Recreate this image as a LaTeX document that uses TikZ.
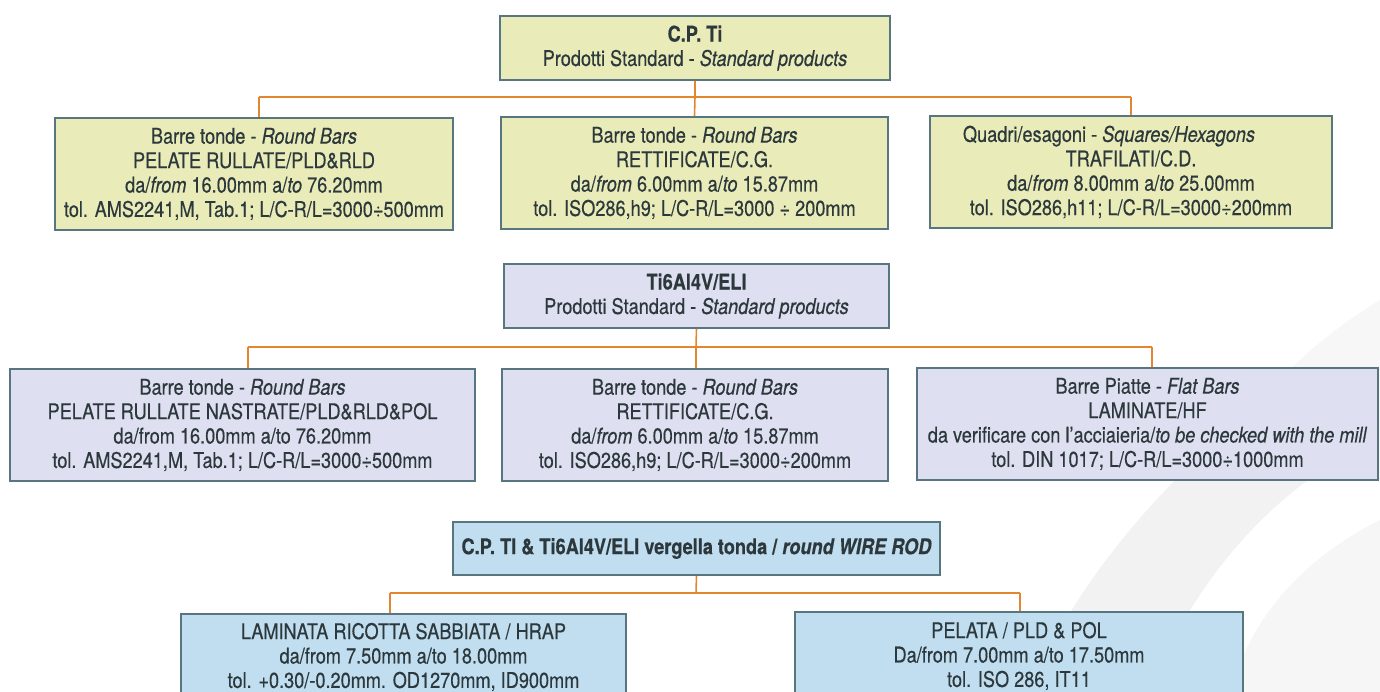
\documentclass[tikz,border=0pt]{standalone}
\usepackage{fontspec}
\setmainfont[FakeStretch=0.84,FakeBold=0.4]{TeX Gyre Heros}
\definecolor{ycol}{RGB}{233,236,184}
\definecolor{lcol}{RGB}{222,223,240}
\definecolor{bcol}{RGB}{192,222,240}
\definecolor{bordc}{RGB}{88,118,128}
\definecolor{txt}{RGB}{44,56,60}
\definecolor{conc}{RGB}{226,134,48}
\begin{document}
\begin{tikzpicture}[x=0.02cm,y=-0.02cm,
  box/.style={draw=bordc, line width=0.9pt, inner sep=0pt, align=center, text=txt,
    font=\fontsize{12.3}{13.9}\selectfont},
  ybox/.style={box, fill=ycol},
  lbox/.style={box, fill=lcol},
  bbox/.style={box, fill=bcol},
  conn/.style={draw=conc, line width=0.9pt}]
\useasboundingbox (0,0) rectangle (1380,692);
\clip (0,0) rectangle (1380,692);
% background swoosh
\fill[gray!10] (1380,330) .. controls (1250,390) and (1090,540) .. (1030,692) -- (1150,692) .. controls (1200,560) and (1300,470) .. (1380,440) -- cycle;
\fill[gray!6] (1380,300) .. controls (1330,330) and (1270,380) .. (1240,430) -- (1380,480) -- cycle;
\fill[gray!7] (1380,520) .. controls (1300,560) and (1250,620) .. (1230,692) -- (1380,692) -- cycle;

% C.P. Ti
\node[ybox, minimum width=7.8cm, minimum height=1.28cm] (h1) at (695,48)
  {\textbf{C.P. Ti}\\Prodotti Standard - \textit{Standard products}};
\node[ybox, minimum width=7.96cm, minimum height=2.24cm] (a1) at (254,174)
  {Barre tonde - \textit{Round Bars}\\PELATE RULLATE/PLD\&RLD\\da/\textit{from} 16.00mm a/\textit{to} 76.20mm\\tol. AMS2241,M, Tab.1; L/C-R/L=3000÷500mm};
\node[ybox, minimum width=7.74cm, minimum height=2.24cm] (b1) at (694.5,173)
  {Barre tonde - \textit{Round Bars}\\RETTIFICATE/C.G.\\da/\textit{from} 6.00mm a/\textit{to} 15.87mm\\tol. ISO286,h9; L/C-R/L=3000 ÷ 200mm};
\node[ybox, minimum width=8.04cm, minimum height=2.24cm] (c1) at (1131,172)
  {Quadri/esagoni - \textit{Squares/Hexagons}\hspace*{0.88cm}\\TRAFILATI/C.D.\hspace*{0.88cm}\\da/\textit{from} 8.00mm a/\textit{to} 25.00mm\hspace*{0.88cm}\\tol. ISO286,h11; L/C-R/L=3000÷200mm};
\coordinate (j1) at (695,97);
\coordinate (d1a) at (259,97);
\coordinate (d1c) at (1131,97);
\draw[conn] (h1.south) -- (j1) -- (b1.north);
\draw[conn] (d1a) -- (d1c);
\draw[conn] (d1a) -- (d1a |- a1.north);
\draw[conn] (d1c) -- (c1.north);

% Ti6Al4V/ELI
\node[lbox, minimum width=7.7cm, minimum height=1.28cm] (h2) at (696.5,296)
  {\textbf{Ti6Al4V/ELI}\\Prodotti Standard - \textit{Standard products}};
\node[lbox, minimum width=9.3cm, minimum height=2.24cm] (a2) at (242.5,425)
  {Barre tonde - \textit{Round Bars}\\PELATE RULLATE NASTRATE/PLD\&RLD\&POL\\da/from 16.00mm a/to 76.20mm\\tol. AMS2241,M, Tab.1; L/C-R/L=3000÷500mm};
\node[lbox, minimum width=7.72cm, minimum height=2.24cm] (b2) at (695,425)
  {Barre tonde - \textit{Round Bars}\\RETTIFICATE/C.G.\\da/\textit{from} 6.00mm a/\textit{to} 15.87mm\\tol. ISO286,h9; L/C-R/L=3000÷200mm};
\node[lbox, minimum width=9.22cm, minimum height=2.24cm] (c2) at (1147.5,424)
  {Barre Piatte - \textit{Flat Bars}\\LAMINATE/HF\\da verificare con l'acciaieria/\textit{to be checked with the mill}\\tol. DIN 1017; L/C-R/L=3000÷1000mm};
\coordinate (j2) at (696,347);
\coordinate (d2a) at (248,347);
\coordinate (d2c) at (1152,347);
\draw[conn] (h2.south) -- (j2) -- (j2 |- b2.north);
\draw[conn] (d2a) -- (d2c);
\draw[conn] (d2a) -- (d2a |- a2.north);
\draw[conn] (d2c) -- (d2c |- c2.north);

% wire rod
\node[bbox, minimum width=9.74cm, minimum height=1.06cm] (h3) at (696.5,548.5)
  {\textbf{C.P. TI \& Ti6Al4V/ELI vergella tonda / \textit{round WIRE ROD}}};
\node[bbox, minimum width=8.9cm, minimum height=1.72cm] (a3) at (403.5,657)
  {LAMINATA RICOTTA SABBIATA / HRAP\\da/from 7.50mm a/to 18.00mm\\tol. +0.30/-0.20mm. OD1270mm, ID900mm};
\node[bbox, minimum width=8.96cm, minimum height=1.76cm] (b3) at (1019,656)
  {PELATA / PLD \& POL\\Da/from 7.00mm a/to 17.50mm\\tol. ISO 286, IT11};
\coordinate (j3) at (696,593);
\coordinate (d3a) at (390,593);
\coordinate (d3b) at (1020,593);
\draw[conn] (h3.south) -- (j3);
\draw[conn] (d3a) -- (d3b);
\draw[conn] (d3a) -- (d3a |- a3.north);
\draw[conn] (d3b) -- (d3b |- b3.north);
\end{tikzpicture}
\end{document}
